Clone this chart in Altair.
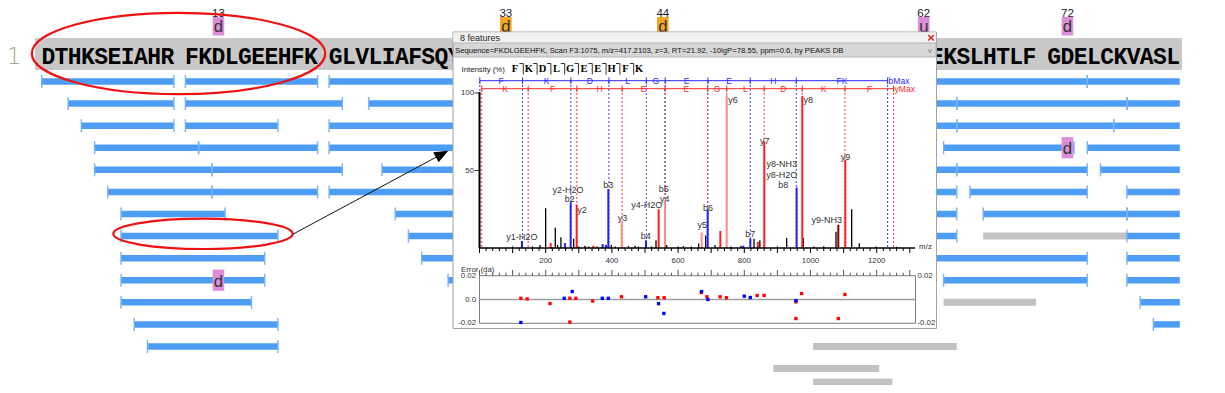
import altair as alt
import pandas as pd

W, H = 1209, 377


def px(v):
    return v - 8.0


def py(v):
    return v - 8.0


# ------------------------------------------------------------------ data
seq_groups = ["DTHKSEIAHR", "FKDLGEEHFK", "GLVLIAFSQY", "LQQCPFDEHV",
              "KLVNELTEFA", "KTCVADESHA", "GCEKSLHTLF", "GDELCKVASL"]

mod_pos = [13, 33, 44, 62, 72]
mod_code = ["d", "d", "d", "u", "d"]
mod_col = ["pink", "orange", "orange", "pink", "pink"]

row_mod_row = [9, 3]
row_mod_pos = [13, 72]
row_mod_code = ["d", "d"]

# peptides (row, first residue, last residue, kind); last > 80 = continues past view
pep_row = [0, 0, 0, 0, 1, 1, 1, 1, 1, 2, 2, 2, 2, 2, 3, 3, 3, 3, 3, 4, 4, 4, 4, 4,
           5, 5, 5, 5, 5, 6, 6, 6, 6, 7, 7, 7, 7, 8, 8, 8, 9, 9, 9, 9, 10, 10, 10,
           11, 11, 12, 12, 13, 14]
pep_start = [1, 11, 21, 74, 3, 11, 24, 65, 77, 4, 11, 21, 65, 76, 5, 12, 21, 64, 74,
             5, 13, 25, 65, 75, 6, 13, 21, 66, 77, 7, 26, 67, 77, 7, 27, 67, 77,
             7, 28, 77, 7, 30, 64, 77, 7, 64, 78, 8, 79, 9, 55, 52, 55]
pep_end = [10, 20, 73, 84, 10, 21, 64, 76, 84, 10, 17, 64, 75, 84, 11, 20, 40, 72, 84,
           12, 21, 64, 73, 84, 12, 20, 64, 73, 84, 13, 64, 76, 84, 17, 64, 76, 84,
           16, 73, 84, 16, 45, 73, 84, 15, 70, 84, 17, 84, 17, 64, 59, 60]
pep_kind = ["b"] * 35 + ["g"] + ["b"] * 9 + ["g"] + ["b"] * 4 + ["g", "g", "g"]

# spectrum peaks (m/z, relative intensity %, kind)
peak_mz = [128.4, 215, 258, 275.4, 293.6, 344, 372, 382, 389.2, 429.5, 503, 541.3,
           560.4, 671.2, 689.3, 727.6, 746.7, 797, 818.2, 841, 860.5, 958.2, 975.3,
           1084, 1105.2,
           100, 160, 182.8, 199.9, 229, 236, 246, 284.5, 300, 318.7, 330, 355, 398.3,
           410, 450, 469.8, 480, 520, 533.2, 565.5, 600, 616, 640, 662, 683.3, 711.5,
           760, 790, 829.3, 847, 900, 928, 978.3, 1010, 1040, 1077, 1124.4, 1147.5,
           1198, 1260]
peak_int = [4.5, 3.2, 3.2, 29.5, 28, 1.5, 2.5, 2, 38, 17, 5, 25,
            30, 10, 24.5, 11, 98.5, 1.5, 6, 4, 68.6, 39, 98,
            15, 57,
            1, 1, 2, 25.6, 13, 2, 7, 6, 1, 1.5, 1, 1, 2,
            1, 1.2, 1.5, 1, 1, 5, 2, 1, 1.2, 1, 3, 8, 2,
            1, 1.5, 6, 5, 1, 6.5, 6.5, 1, 1.2, 10.5, 25, 3,
            1, 0.8]
peak_kind = ["b", "y", "b", "b", "y", "y", "b", "b", "b", "yl", "b", "y",
             "yl", "yl", "b", "y", "yl", "b", "b", "y", "y", "b", "y",
             "yd", "y"] + ["n"] * 40

ion_text = ["y1-H2O", "y2-H2O", "b2", "y2", "b3", "y3", "y4-H2O", "b4", "b5", "y4",
            "b6", "y5", "b7", "y7", "y8-NH3", "y8-H2O", "b8", "y9", "y9-NH3", "y6", "y8"]
ion_mz = [128, 267, 273, 310, 389, 432, 505, 502, 557, 560,
          690, 673, 818, 862, 913, 913, 918, 1106, 1049, 766, 993]
ion_int = [7, 37.4, 31.4, 24.5, 40.6, 19.2, 27.7, 7.7, 38, 31.4,
           25.6, 14.6, 9, 69.2, 54, 47, 40.6, 59, 18, 95.5, 95.5]

b_pos = [1, 130, 276, 391, 504, 561, 690, 818, 957, 1233]
b_letters = ["F", "K", "D", "L", "G", "E", "E", "H", "FK"]
y_pos = [7, 147, 294, 431, 560, 689, 747, 860, 975, 1104, 1251]
y_letters = ["K", "F", "H", "E", "E", "G", "L", "D", "K", "F"]

frag_letters = ["F", "K", "D", "L", "G", "E", "E", "H", "F", "K"]

err_mz = [125, 144, 213, 273, 291, 273, 342, 429, 539, 558, 670, 687, 727, 746,
          839, 860, 956, 956, 973, 1084, 1104,
          125, 256, 280, 371, 389, 502, 541, 557, 671, 690, 800, 818, 956]
err_val = [0.001, 0.0005, -0.0034, 0.001, 0.001, -0.019, -0.0013, 0.0023, 0.0015,
           0.0015, 0.0058, 0.0023, 0.0023, 0.0015, 0.0034, 0.0034, -0.002, -0.016,
           0.005, -0.016, 0.0042,
           -0.0193, 0.001, 0.0067, 0.001, 0.001, 0.0023, -0.0035, -0.0117, 0.0067,
           0.0, 0.0028, 0.0017, -0.001]
err_kind = ["y"] * 21 + ["b"] * 13

mz_label_vals = [200, 400, 600, 800, 1000, 1200]
mz_major = [0, 100, 200, 300, 400, 500, 600, 700, 800, 900, 1000, 1100, 1200, 1300]
mz_minor = [v for v in range(0, 1320, 20) if v % 100 != 0]
int_label_vals = [100, 50]
err_label_vals = [0.02, 0.0, -0.02]
err_label_txt = ["0.02", "0.0", "-0.02"]

seq_info = ("Sequence=FKDLGEEHFK, Scan F3:1075, m/z=417.2103, z=3, RT=21.92, "
            "-10lgP=78.55, ppm=0.6, by PEAKS DB")

# ------------------------------------------------------------------ layout helpers
GAP = 0.87      # extra slot between groups of ten residues
CW = 13.22      # residue width in px
RH = 22.08      # row pitch in px
WIN_L, WIN_R = 453, 936.5   # inset window edges (px)


def slot(p):
    return (p - 1) + GAP * ((p - 1) // 10)


COVX = alt.Scale(domain=[0, 100], range=[px(41.7), px(41.7 + 100 * CW)], nice=False, zero=False)
COVY = alt.Scale(domain=[0, 13, 14], range=[py(81.5), py(81.5 + 13 * RH), py(382)],
                 nice=False, zero=False)
MZ = alt.Scale(domain=[0, 1320], range=[px(479.5), px(479.5 + 1320 * 0.331)], nice=False, zero=False)
INT = alt.Scale(domain=[0, 100], range=[py(248), py(93)], nice=False, zero=False)
ERR = alt.Scale(domain=[-0.02, 0.02], range=[py(323.3), py(275.7)], nice=False, zero=False)
FRAG = alt.Scale(domain=[0, 9], range=[px(515), px(515 + 9 * 13.8)], nice=False, zero=False)


def qx(f, sc):
    return alt.X(f, type="quantitative", scale=sc, axis=None)


def qy(f, sc):
    return alt.Y(f, type="quantitative", scale=sc, axis=None)


one = pd.DataFrame({"k": [0]})
UI = "Liberation Sans"
BLUE = "#4d9df5"
TICKC = "#78b3f5"
GRAY = "#c2c2c2"

layers = []

# ------------------------------------------------------------------ coverage map
layers.append(alt.Chart(one).mark_rect(color="#c8c8c8").encode(
    x=alt.value(px(35)), x2=alt.value(px(1182)), y=alt.value(py(38)), y2=alt.value(py(70))))

seq = "".join(seq_groups)
df_seq = pd.DataFrame({"pos": list(range(1, len(seq) + 1)), "aa": list(seq)})
df_seq["xs"] = [slot(p) + 0.5 for p in df_seq["pos"]]
# residues entirely hidden behind the inset window are not drawn
left_edge = 41.7 + (df_seq["xs"] - 0.5) * CW
right_edge = left_edge + CW
df_seq = df_seq[(left_edge < WIN_L) | (right_edge > WIN_R)]
layers.append(alt.Chart(df_seq).mark_text(
    font="Liberation Mono", fontWeight="bold", fontSize=23, baseline="alphabetic",
    align="center", color="#000000").encode(
    x=qx("xs", COVX), y=alt.value(py(63.5)), text="aa:N"))

layers.append(alt.Chart(one).mark_text(
    text="1", font="DejaVu Sans", fontWeight=200, fontSize=23, color="#a9a986",
    align="center", baseline="alphabetic").encode(x=alt.value(px(14)), y=alt.value(py(63.5))))

df_mod = pd.DataFrame({"pos": mod_pos, "code": mod_code, "col": mod_col})
df_mod["xs"] = [slot(p) + 0.5 for p in mod_pos]
df_mod["xa"] = [slot(p) + 0.06 for p in mod_pos]
df_mod["xb"] = [slot(p) + 0.94 for p in mod_pos]
df_mod["lab"] = [str(p) for p in mod_pos]
modcolor = alt.Color("col:N", scale=alt.Scale(domain=["pink", "orange"],
                                              range=["#dc8fd8", "#f5a524"]), legend=None)
layers.append(alt.Chart(df_mod).mark_text(font=UI, fontSize=11.5, baseline="alphabetic",
                                          color="#1a1a2e").encode(
    x=qx("xs", COVX), y=alt.value(py(16.8)), text="lab:N"))
layers.append(alt.Chart(df_mod).mark_rect().encode(
    x=qx("xa", COVX), x2="xb", y=alt.value(py(17)), y2=alt.value(py(35.5)), color=modcolor))
layers.append(alt.Chart(df_mod).mark_text(font="Liberation Mono", fontSize=17,
                                          baseline="alphabetic", color="#333333").encode(
    x=qx("xs", COVX), y=alt.value(py(32)), text="code:N"))

df_pep = pd.DataFrame({"row": pep_row, "start": pep_start, "end": pep_end, "kind": pep_kind})
df_pep["x0"] = [slot(s) for s in df_pep["start"]]
df_pep["x1"] = [slot(min(e, 80)) + 1 for e in df_pep["end"]]
blue = df_pep[df_pep["kind"] == "b"]
gray = df_pep[df_pep["kind"] == "g"]

layers.append(alt.Chart(gray).mark_rule(color=GRAY, strokeWidth=7, strokeCap="butt").encode(
    x=qx("x0", COVX), x2="x1", y=qy("row", COVY)))
layers.append(alt.Chart(blue).mark_rule(color=BLUE, strokeWidth=6.5, strokeCap="butt").encode(
    x=qx("x0", COVX), x2="x1", y=qy("row", COVY)))

tk_rows, tk_x = [], []
for _, r in blue.iterrows():
    tk_rows.append(r["row"])
    tk_x.append(r["x0"])
    if r["end"] <= 80:
        tk_rows.append(r["row"])
        tk_x.append(r["x1"])
df_tk = pd.DataFrame({"row": tk_rows, "xt": tk_x})
layers.append(alt.Chart(df_tk).mark_tick(orient="vertical", thickness=1.4, size=13,
                                         color=TICKC, opacity=1).encode(
    x=qx("xt", COVX), y=qy("row", COVY)))

df_rm = pd.DataFrame({"row": row_mod_row, "pos": row_mod_pos, "code": row_mod_code})
df_rm["xa"] = [slot(p) + 0.06 for p in row_mod_pos]
df_rm["xb"] = [slot(p) + 0.94 for p in row_mod_pos]
df_rm["xs"] = [slot(p) + 0.5 for p in row_mod_pos]
df_rm["ya"] = df_rm["row"] - 0.48
df_rm["yb"] = df_rm["row"] + 0.48
layers.append(alt.Chart(df_rm).mark_rect(color="#dc8fd8").encode(
    x=qx("xa", COVX), x2="xb", y=qy("ya", COVY), y2="yb"))
layers.append(alt.Chart(df_rm).mark_text(font="Liberation Mono", fontSize=17,
                                         baseline="alphabetic", dy=6.5,
                                         color="#333333").encode(
    x=qx("xs", COVX), y=qy("row", COVY), text="code:N"))

# ------------------------------------------------------------------ inset window chrome
layers.append(alt.Chart(one).mark_rect(fill="white", stroke="#a3a3a3", strokeWidth=1).encode(
    x=alt.value(px(WIN_L)), x2=alt.value(px(WIN_R)), y=alt.value(py(32)), y2=alt.value(py(328.5))))
layers.append(alt.Chart(one).mark_rect(fill="#f1f1f1").encode(
    x=alt.value(px(453.5)), x2=alt.value(px(936)), y=alt.value(py(32.5)), y2=alt.value(py(43))))
layers.append(alt.Chart(one).mark_rect(fill="#d7d7d7", stroke="#b5b5b5", strokeWidth=1).encode(
    x=alt.value(px(453.5)), x2=alt.value(px(936)), y=alt.value(py(43)), y2=alt.value(py(57))))
layers.append(alt.Chart(one).mark_text(text="8 features", font=UI, fontSize=9, align="left",
                                       baseline="middle", color="#222222").encode(
    x=alt.value(px(460)), y=alt.value(py(38))))
layers.append(alt.Chart(one).mark_text(text="\u00d7", font=UI, fontWeight="bold", fontSize=13,
                                       align="center", baseline="middle", color="#d42a1a").encode(
    x=alt.value(px(931)), y=alt.value(py(37.5))))
layers.append(alt.Chart(one).mark_text(text=seq_info, font=UI, fontSize=7.7, align="left",
                                       baseline="middle", color="#111111").encode(
    x=alt.value(px(455)), y=alt.value(py(50.5))))
layers.append(alt.Chart(one).mark_text(text="v", font=UI, fontSize=8, align="center",
                                       baseline="middle", color="#777777").encode(
    x=alt.value(px(930)), y=alt.value(py(50.5))))
layers.append(alt.Chart(one).mark_text(text="Intensity (%)", font=UI, fontSize=7.8, align="left",
                                       baseline="middle", color="#222222").encode(
    x=alt.value(px(461.5)), y=alt.value(py(70))))

# fragment sequence boxes
df_fr = pd.DataFrame({"i": list(range(len(frag_letters))), "aa": frag_letters})
layers.append(alt.Chart(df_fr).mark_text(font="Liberation Serif", fontWeight="bold", fontSize=10.5,
                                         align="center", baseline="middle",
                                         color="#000000").encode(
    x=qx("i", FRAG), y=alt.value(py(69)), text="aa:N"))
df_br = pd.DataFrame({"i": [k + 0.6 for k in range(len(frag_letters) - 1)]})
df_br["j"] = df_br["i"] - 0.28
layers.append(alt.Chart(df_br).mark_rule(color="#333333", strokeWidth=1).encode(
    x=qx("i", FRAG), y=alt.value(py(63.5)), y2=alt.value(py(74.5))))
layers.append(alt.Chart(df_br).mark_rule(color="#333333", strokeWidth=1).encode(
    x=qx("j", FRAG), x2="i", y=alt.value(py(63.5)), y2=alt.value(py(63.5))))

# ------------------------------------------------------------------ spectrum
df_bp = pd.DataFrame({"mz": b_pos})
df_yp = pd.DataFrame({"mz": y_pos})
layers.append(alt.Chart(df_bp).mark_rule(color="#3b3bff", strokeWidth=1, strokeDash=[2, 2]).encode(
    x=qx("mz", MZ), y=alt.value(py(81)), y2=alt.value(py(248))))
layers.append(alt.Chart(df_yp).mark_rule(color="#ff3b3b", strokeWidth=1, strokeDash=[2, 2]).encode(
    x=qx("mz", MZ), y=alt.value(py(89)), y2=alt.value(py(248))))

# ladders
df_bl = pd.DataFrame({"a": [b_pos[0]], "b": [b_pos[-1]]})
df_yl = pd.DataFrame({"a": [y_pos[0]], "b": [y_pos[-1]]})
layers.append(alt.Chart(df_bl).mark_rule(color="#2b2bff", strokeWidth=1).encode(
    x=qx("a", MZ), x2="b", y=alt.value(py(80.7))))
layers.append(alt.Chart(df_yl).mark_rule(color="#ff2b2b", strokeWidth=1).encode(
    x=qx("a", MZ), x2="b", y=alt.value(py(88.7))))
layers.append(alt.Chart(df_bp).mark_rule(color="#2b2bff", strokeWidth=1).encode(
    x=qx("mz", MZ), y=alt.value(py(77.5)), y2=alt.value(py(84))))
layers.append(alt.Chart(df_yp).mark_rule(color="#ff2b2b", strokeWidth=1).encode(
    x=qx("mz", MZ), y=alt.value(py(85.5)), y2=alt.value(py(92))))
df_blt = pd.DataFrame({"mz": [(b_pos[i] + b_pos[i + 1]) / 2 for i in range(len(b_letters))],
                       "t": b_letters})
df_ylt = pd.DataFrame({"mz": [(y_pos[i] + y_pos[i + 1]) / 2 for i in range(len(y_letters))],
                       "t": y_letters})
layers.append(alt.Chart(df_blt).mark_text(font=UI, fontSize=8.5, align="center",
                                          baseline="middle", color="#2b2bff").encode(
    x=qx("mz", MZ), y=alt.value(py(80.7)), text="t:N"))
layers.append(alt.Chart(df_ylt).mark_text(font=UI, fontSize=8.5, align="center",
                                          baseline="middle", color="#ff2b2b").encode(
    x=qx("mz", MZ), y=alt.value(py(88.7)), text="t:N"))
layers.append(alt.Chart(pd.DataFrame({"mz": [b_pos[-1]]})).mark_text(
    text="bMax", font=UI, fontSize=8.5, align="left", baseline="middle", dx=1,
    color="#2b2bff").encode(x=qx("mz", MZ), y=alt.value(py(80.7))))
layers.append(alt.Chart(pd.DataFrame({"mz": [y_pos[-1]]})).mark_text(
    text="yMax", font=UI, fontSize=8.5, align="left", baseline="middle", dx=1,
    color="#ff2b2b").encode(x=qx("mz", MZ), y=alt.value(py(88.7))))

# peaks
df_pk = pd.DataFrame({"mz": peak_mz, "inten": peak_int, "kind": peak_kind})
df_pk["z"] = 0.0
pkcolor = alt.Color("kind:N", scale=alt.Scale(domain=["n", "y", "yl", "b", "yd"],
                                              range=["#000000", "#ff1f1f", "#ff8c8c",
                                                     "#2020ff", "#8a0000"]), legend=None)
layers.append(alt.Chart(df_pk[df_pk["kind"] == "n"]).mark_rule(strokeWidth=1.3).encode(
    x=qx("mz", MZ), y=qy("inten", INT), y2="z", color=pkcolor))
layers.append(alt.Chart(df_pk[df_pk["kind"] != "n"]).mark_rule(strokeWidth=2).encode(
    x=qx("mz", MZ), y=qy("inten", INT), y2="z", color=pkcolor))

df_ion = pd.DataFrame({"mz": ion_mz, "inten": ion_int, "t": ion_text})
layers.append(alt.Chart(df_ion).mark_text(font=UI, fontSize=9, align="center",
                                          baseline="middle", color="#333333").encode(
    x=qx("mz", MZ), y=qy("inten", INT), text="t:N"))

# spectrum axes
layers.append(alt.Chart(pd.DataFrame({"a": [0], "b": [1316]})).mark_rule(
    color="#000000", strokeWidth=1.6).encode(x=qx("a", MZ), x2="b", y=alt.value(py(248))))
layers.append(alt.Chart(one).mark_rule(color="#000000", strokeWidth=2).encode(
    x=alt.value(px(479.5)), y=alt.value(py(92)), y2=alt.value(py(248))))
layers.append(alt.Chart(pd.DataFrame({"mz": mz_minor})).mark_rule(color="#000000", strokeWidth=1).encode(
    x=qx("mz", MZ), y=alt.value(py(248)), y2=alt.value(py(251))))
layers.append(alt.Chart(pd.DataFrame({"mz": mz_major})).mark_rule(color="#000000", strokeWidth=1).encode(
    x=qx("mz", MZ), y=alt.value(py(248)), y2=alt.value(py(253))))
df_mzl = pd.DataFrame({"mz": mz_label_vals, "t": [str(v) for v in mz_label_vals]})
layers.append(alt.Chart(df_mzl).mark_text(font=UI, fontSize=7.8, align="center",
                                          baseline="middle", color="#333333").encode(
    x=qx("mz", MZ), y=alt.value(py(260.5)), text="t:N"))
layers.append(alt.Chart(one).mark_text(text="m/z", font=UI, fontSize=8, align="left",
                                       baseline="middle", color="#333333").encode(
    x=alt.value(px(919)), y=alt.value(py(247))))
df_il = pd.DataFrame({"v": int_label_vals, "t": [str(v) for v in int_label_vals]})
layers.append(alt.Chart(df_il).mark_text(font=UI, fontSize=7.8, align="right",
                                         baseline="middle", color="#333333").encode(
    x=alt.value(px(474)), y=qy("v", INT), text="t:N"))
layers.append(alt.Chart(df_il).mark_rule(color="#333333", strokeWidth=1).encode(
    x=alt.value(px(474.5)), x2=alt.value(px(479)), y=qy("v", INT)))

# error plot
layers.append(alt.Chart(one).mark_rect(fill="white", stroke="#7d7d7d", strokeWidth=1).encode(
    x=alt.value(px(479.5)), x2=alt.value(px(915.5)), y=alt.value(py(275.7)), y2=alt.value(py(323.3))))
layers.append(alt.Chart(pd.DataFrame({"v": [0.0]})).mark_rule(color="#a0a0a0", strokeWidth=1.6).encode(
    x=alt.value(px(479.5)), x2=alt.value(px(915.5)), y=qy("v", ERR)))
layers.append(alt.Chart(pd.DataFrame({"mz": mz_minor})).mark_rule(color="#555555", strokeWidth=1).encode(
    x=qx("mz", MZ), y=alt.value(py(272.7)), y2=alt.value(py(275.7))))
layers.append(alt.Chart(pd.DataFrame({"mz": mz_major})).mark_rule(color="#555555", strokeWidth=1).encode(
    x=qx("mz", MZ), y=alt.value(py(270)), y2=alt.value(py(275.7))))
layers.append(alt.Chart(one).mark_text(text="Error (da)", font=UI, fontSize=7.8, align="left",
                                       baseline="middle", color="#333333").encode(
    x=alt.value(px(461)), y=alt.value(py(269.5))))
df_el = pd.DataFrame({"v": err_label_vals, "t": err_label_txt})
layers.append(alt.Chart(df_el).mark_text(font=UI, fontSize=7.8, align="right",
                                         baseline="middle", color="#333333").encode(
    x=alt.value(px(476)), y=qy("v", ERR), text="t:N"))
df_er = df_el[df_el["v"] != 0.0]
layers.append(alt.Chart(df_er).mark_text(font=UI, fontSize=7.8, align="left",
                                         baseline="middle", color="#333333").encode(
    x=alt.value(px(917.5)), y=qy("v", ERR), text="t:N"))
df_err = pd.DataFrame({"mz": err_mz, "e": err_val, "kind": err_kind})
layers.append(alt.Chart(df_err).mark_square(size=11, opacity=1, filled=True).encode(
    x=qx("mz", MZ), y=qy("e", ERR),
    color=alt.Color("kind:N", scale=alt.Scale(domain=["y", "b"], range=["#ff0000", "#0000ff"]),
                    legend=None)))

# ------------------------------------------------------------------ annotations
def ellipse_path(r):
    k = 0.5523
    return (f"M -1 0 C -1 {-k * r:.4f} {-k:.4f} {-r:.4f} 0 {-r:.4f} "
            f"C {k:.4f} {-r:.4f} 1 {-k * r:.4f} 1 0 "
            f"C 1 {k * r:.4f} {k:.4f} {r:.4f} 0 {r:.4f} "
            f"C {-k:.4f} {r:.4f} -1 {k * r:.4f} -1 0 Z")


ell_x = [10.35, 12.2]
ell_y = [-1.27, 6.9]
ell_ratio = [0.277, 0.169]
ell_width = [293.4, 179.4]
for ex, ey, er, ew in zip(ell_x, ell_y, ell_ratio, ell_width):
    layers.append(alt.Chart(pd.DataFrame({"x": [ex], "y": [ey]})).mark_point(
        shape=ellipse_path(er), size=ew * ew, filled=False, stroke="#ee1111",
        strokeWidth=2.2, opacity=1).encode(x=qx("x", COVX), y=qy("y", COVY)))

arrow = pd.DataFrame({"x": [18.99], "y": [6.92], "x2": [30.29], "y2": [3.283]})
layers.append(alt.Chart(arrow).mark_rule(color="#111111", strokeWidth=1).encode(
    x=qx("x", COVX), y=qy("y", COVY), x2="x2", y2="y2"))
layers.append(alt.Chart(arrow).mark_point(
    shape="M 1 0 L -1 -0.8 L -1 0.8 Z", size=196, filled=True, color="#000000",
    angle=331.75, opacity=1).encode(x=qx("x2", COVX), y=qy("y2", COVY)))

chart = alt.layer(*layers).resolve_scale(
    x="independent", y="independent", color="independent"
).properties(
    width=W, height=H, padding=0, background="white",
    autosize=alt.AutoSizeParams(type="none"),
).configure_view(stroke=None)

chart.save("out.html", embed_options={"renderer": "svg", "actions": False})
